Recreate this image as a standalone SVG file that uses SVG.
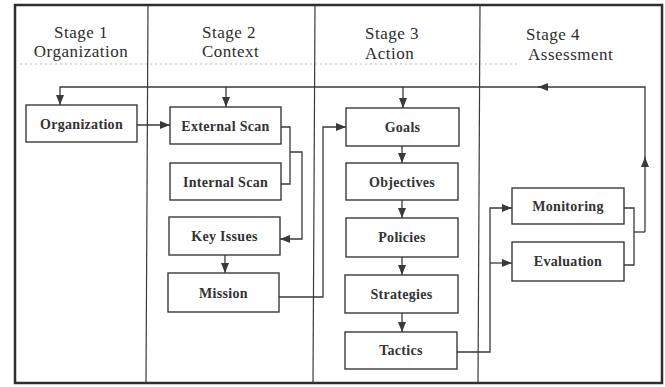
<svg xmlns="http://www.w3.org/2000/svg" width="665" height="387" viewBox="0 0 665 387">
<defs>
<marker id="ah" markerUnits="userSpaceOnUse" markerWidth="10" markerHeight="10" viewBox="0 0 10 10" refX="10" refY="5" orient="auto">
<path d="M0,1 L10,5 L0,9 Z" fill="#3a3a3a"/>
</marker>
</defs>
<style>
.frame{fill:#fff;stroke:#2e2e2e;stroke-width:2.5}
.col{stroke:#3a3a3a;stroke-width:1.2;fill:none}
.box{fill:#fff;stroke:#3a3a3a;stroke-width:1.4}
.lbl{font-family:"Liberation Serif","Times New Roman",serif;font-size:14px;font-weight:bold;fill:#333;text-anchor:middle;letter-spacing:0.3px}
.hd{font-family:"Liberation Serif","Times New Roman",serif;font-size:17px;fill:#2e2e2e;letter-spacing:0.5px}
.c{fill:none;stroke:#3a3a3a;stroke-width:1.3}
.a{marker-end:url(#ah)}
</style>
<rect x="0" y="0" width="665" height="387" fill="#fff"/>
<rect class="frame" x="15" y="5" width="647" height="378"/>
<g id="columns">
<line class="col" x1="148" y1="5" x2="146" y2="383"/>
<line class="col" x1="315" y1="5" x2="313" y2="383"/>
<line class="col" x1="480" y1="5" x2="478" y2="383"/>
<line x1="20" y1="64" x2="520" y2="64" stroke="#bbb" stroke-width="1" stroke-dasharray="2,3"/>
</g>
<g id="headers">
<text class="hd" x="81" y="38" text-anchor="middle">Stage 1</text>
<text class="hd" x="81" y="57" text-anchor="middle">Organization</text>
<text class="hd" x="202" y="38">Stage 2</text>
<text class="hd" x="202" y="57">Context</text>
<text class="hd" x="365" y="39">Stage 3</text>
<text class="hd" x="365" y="59">Action</text>
<text class="hd" x="526" y="40">Stage 4</text>
<text class="hd" x="528" y="60">Assessment</text>
</g>
<g id="connectors">
<path class="c a" d="M645,232 V157"/>
<path class="c a" d="M645,160 V87 H538"/>
<path class="c a" d="M545,87 H60 V105"/>
<path class="c a" d="M226,87 V107"/>
<path class="c a" d="M403,87 V108"/>
<path class="c a" d="M137,125 H170"/>
<path class="c" d="M281,127 H290 V184 H281"/>
<path class="c a" d="M290,152 H302 V239 H280"/>
<path class="c a" d="M225,255 V273"/>
<path class="c a" d="M279,297 H323 V127 H346"/>
<path class="c a" d="M402,146 V163"/>
<path class="c a" d="M402,200 V218"/>
<path class="c a" d="M402,257 V275"/>
<path class="c a" d="M402,313 V332"/>
<path class="c a" d="M457,352 H490 V208 H512"/>
<path class="c a" d="M490,263 H512"/>
<path class="c" d="M624,208 H634 V265 H624"/>
<path class="c" d="M634,232 H645"/>
</g>
<g id="organization"><rect class="box" x="26" y="105" width="111" height="37"/><text class="lbl" x="81.5" y="129">Organization</text></g>
<g id="external-scan"><rect class="box" x="170" y="107" width="111" height="37"/><text class="lbl" x="225.5" y="131">External Scan</text></g>
<g id="internal-scan"><rect class="box" x="170" y="163" width="111" height="37"/><text class="lbl" x="225.5" y="187">Internal Scan</text></g>
<g id="key-issues"><rect class="box" x="169" y="217" width="111" height="38"/><text class="lbl" x="224.5" y="241">Key Issues</text></g>
<g id="mission"><rect class="box" x="168" y="273" width="111" height="39"/><text class="lbl" x="223.5" y="298">Mission</text></g>
<g id="goals"><rect class="box" x="346" y="108" width="113" height="38"/><text class="lbl" x="402.5" y="132">Goals</text></g>
<g id="objectives"><rect class="box" x="346" y="163" width="112" height="37"/><text class="lbl" x="402" y="187">Objectives</text></g>
<g id="policies"><rect class="box" x="346" y="218" width="112" height="39"/><text class="lbl" x="402" y="242">Policies</text></g>
<g id="strategies"><rect class="box" x="345" y="275" width="113" height="38"/><text class="lbl" x="401.5" y="299">Strategies</text></g>
<g id="tactics"><rect class="box" x="345" y="332" width="112" height="37"/><text class="lbl" x="401" y="355">Tactics</text></g>
<g id="monitoring"><rect class="box" x="512" y="188" width="112" height="36"/><text class="lbl" x="568" y="211">Monitoring</text></g>
<g id="evaluation"><rect class="box" x="512" y="242" width="112" height="39"/><text class="lbl" x="568" y="266">Evaluation</text></g>
</svg>
